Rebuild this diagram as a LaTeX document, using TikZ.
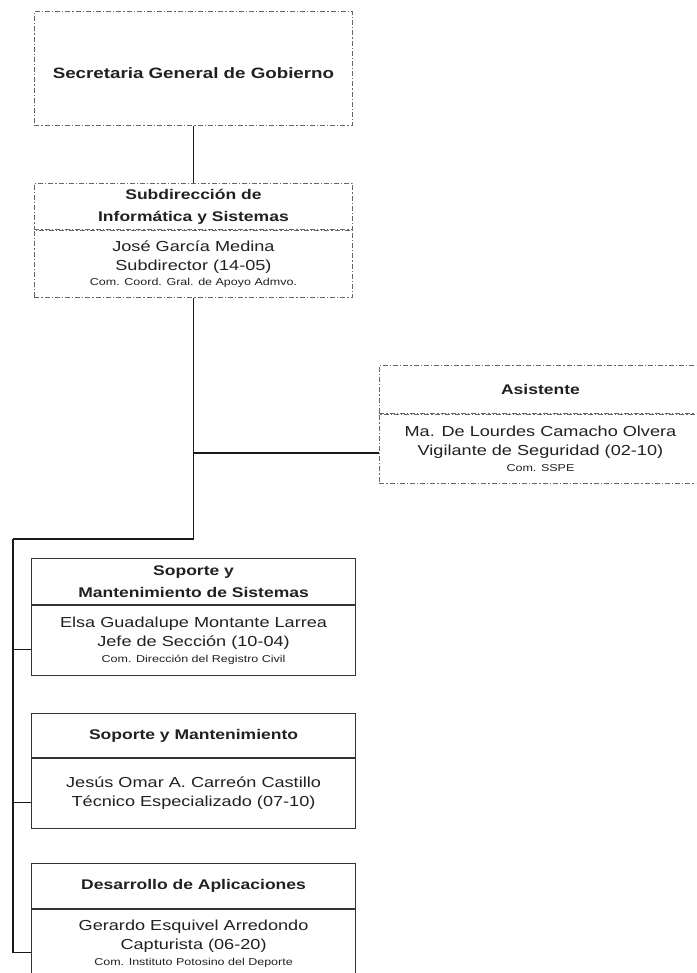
\documentclass[tikz,border=0pt]{standalone}
\usepackage{fontspec}
\setmainfont{Liberation Sans}
\newfontfamily\orgfont[FakeStretch=1.25]{Liberation Sans}
\usetikzlibrary{positioning}
\definecolor{inkgray}{rgb}{0.13,0.13,0.13}
\definecolor{dashgray}{rgb}{0.4,0.4,0.4}
\definecolor{rulegray}{rgb}{0.2,0.2,0.2}
\newcommand{\smalltxt}{\fontsize{10}{12}\selectfont}
\tikzset{
org_box/.style={
	% The shape:
	rectangle,
	% The border:
	draw=rulegray,
	line width=1.1pt,
	% Text
	text=inkgray,
	align=center,
	inner sep=0pt,
	anchor=north west,
	minimum width=324pt
},
dash_box/.style={
	org_box,
	% dash and dot, as on the scan
	draw=dashgray,
	line width=0.9pt,
	dash pattern=on 5pt off 2pt on 1.2pt off 2pt,
	minimum width=318pt
},
head_txt/.style={font={\orgfont\bfseries\fontsize{14}{22}\selectfont}},
body_txt/.style={font={\orgfont\fontsize{14.5}{19}\selectfont}},
org_line/.style={draw=black!90,line width=1.6pt}
}

\begin{document}
\begin{tikzpicture}[x=1pt,y=-1pt]
	\useasboundingbox (0,0) rectangle (696,973);
	\clip (0,0) rectangle (696,973);
	\fill[white] (0,0) rectangle (696,973);

	% dashed boxes at the top
	\node[dash_box,head_txt,minimum height=114pt,text height=21pt,font={\orgfont\bfseries\fontsize{15}{18}\selectfont}] (sgg) at (34,11) {Secretaria General de Gobierno};
	\node[dash_box,head_txt,minimum height=46pt] (sis) at (34,183) {Subdirección de\\Informática y Sistemas};
	\node[dash_box,body_txt,minimum height=67pt,below=0pt of sis] (sisb) {José García Medina\\Subdirector (14-05)\\[-4pt]{\smalltxt Com. Coord. Gral. de Apoyo Admvo.}};

	% staff box on the right
	\node[dash_box,head_txt,minimum height=48pt,minimum width=322pt] (asi) at (379,365) {Asistente};
	\node[dash_box,body_txt,minimum height=69pt,minimum width=322pt,below=0pt of asi] (asib) {Ma. De Lourdes Camacho Olvera\\Vigilante de Seguridad (02-10)\\[-3pt]{\smalltxt Com. SSPE}};

	% solid boxes at the bottom
	\node[org_box,head_txt,minimum height=46pt] (sms) at (31,558) {Soporte y\\Mantenimiento de Sistemas};
	\node[org_box,body_txt,minimum height=70pt,below=0pt of sms] (smsb) {Elsa Guadalupe Montante Larrea\\Jefe de Sección (10-04)\\[-3pt]{\smalltxt Com. Dirección del Registro Civil}};
	\node[org_box,head_txt,minimum height=44pt] (sym) at (31,713) {Soporte y Mantenimiento};
	\node[org_box,body_txt,minimum height=70pt,below=0pt of sym] (symb) {Jesús Omar A. Carreón Castillo\\Técnico Especializado (07-10)};
	\node[org_box,head_txt,minimum height=45pt] (dap) at (31,863) {Desarrollo de Aplicaciones};
	\node[org_box,body_txt,minimum height=68pt,below=0pt of dap] (dapb) {Gerardo Esquivel Arredondo\\Capturista (06-20)\\[-3pt]{\smalltxt Com. Instituto Potosino del Deporte}};

	\coordinate (rail) at (13,539);

	\path[org_line] (sgg) -- (sis)
		(sisb.south) |- (rail)
		(sisb.south |- asib.west) ++(0,4) -- ([yshift=-4pt]asib.west)
		(rail) |- ([yshift=-9pt]smsb.west)
		(rail) |- ([yshift=-9pt]symb.west)
		(rail) |- ([yshift=-9pt]dapb.west);
\end{tikzpicture}
\end{document}
